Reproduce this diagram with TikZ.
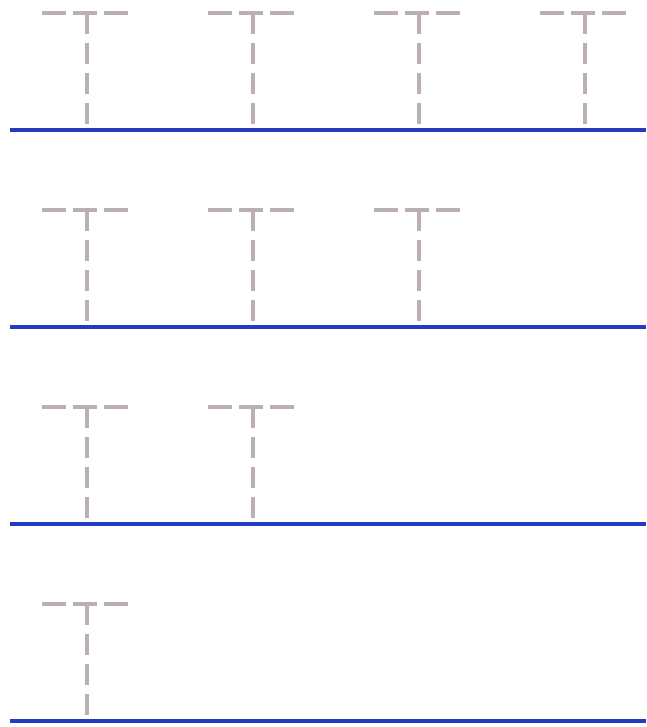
\documentclass[tikz,border=0pt]{standalone}
\usetikzlibrary{arrows.meta}
\begin{document}
\begin{tikzpicture}[x=0.02cm, y=-0.02cm, >=Stealth]
  \definecolor{baseblue}{RGB}{35,60,190}
  \definecolor{tgray}{RGB}{185,175,180}

  \useasboundingbox (0,0) rectangle (646,727);

  \foreach \r in {0,...,3} {
    \pgfmathsetmacro{\yb}{130+197*\r}
    \pgfmathsetmacro{\yt}{\yb-117}
    \pgfmathtruncatemacro{\n}{3-\r}
    \draw[baseblue, line width=2.6pt] (10,\yb) -- (646,\yb);
    \foreach \k in {0,...,\n} {
      \pgfmathsetmacro{\xc}{87+166*\k}
      \draw[tgray, line width=2pt, dash pattern=on 13.6pt off 4pt] (\xc-45,\yt) -- (\xc+41,\yt);
      \draw[tgray, line width=2pt, dash pattern=on 12pt off 5pt] (\xc,\yt) -- (\xc,\yb);
    }
  }

\end{tikzpicture}
\end{document}
